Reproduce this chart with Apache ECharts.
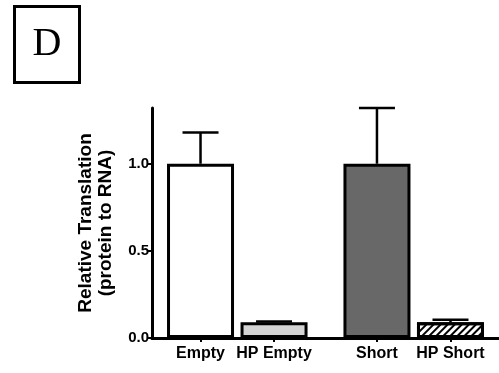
<!DOCTYPE html>
<html>
<head>
<meta charset="utf-8">
<script src="https://cdn.jsdelivr.net/npm/echarts@6/dist/echarts.min.js"></script>
<style>
  html, body { margin: 0; padding: 0; background: #fff; }
  #chart { width: 499px; height: 373px; }
</style>
</head>
<body>
<div id="chart"></div>
<script>
// values
var categories = ["Empty", "HP Empty", "Short", "HP Short"];
var slots = [1, 2, 3.4, 4.4];            // bar positions along x (pairs with a gap)
var means = [1.0, 0.09, 1.0, 0.09];
var upperErr = [1.18, 0.095, 1.32, 0.105];
var yTicks = [0, 0.5, 1.0];

var font = "'Liberation Sans', Arial, sans-serif";

// one style per bar, matching the fills of the scan
var barStyles = [
    { color: "#ffffff" },
    { color: "#d4d4d4" },
    { color: "#686868" },
    {
        color: "#ffffff",
        decal: {
            symbol: "rect", color: "#000", symbolSize: 1,
            dashArrayX: [1, 0], dashArrayY: [2, 3], rotation: -Math.PI / 4
        }
    }
];

var barData = categories.map(function (c, i) {
    return {
        value: [slots[i], means[i]],
        itemStyle: Object.assign({ borderColor: "#000", borderWidth: 3 }, barStyles[i])
    };
});

var errData = categories.map(function (c, i) {
    return [slots[i], means[i], upperErr[i]];
});

function renderErr(params, api) {
    var x = api.value(0);
    var lo = api.coord([x, api.value(1)]);
    var hi = api.coord([x, api.value(2)]);
    var half = 18;
    var st = { stroke: "#000", lineWidth: 2.5 };
    return {
        type: "group",
        children: [
            { type: "line", shape: { x1: lo[0], y1: lo[1], x2: hi[0], y2: hi[1] }, style: st },
            { type: "line", shape: { x1: hi[0] - half, y1: hi[1], x2: hi[0] + half, y2: hi[1] }, style: st }
        ]
    };
}

var chart = echarts.init(document.getElementById("chart"));
chart.setOption({
    animation: false,
    backgroundColor: "#fff",
    grid: { left: 152, right: 0, top: 108, bottom: 35 },
    xAxis: {
        type: "value",
        min: 0.34,
        max: 5.06,
        splitLine: { show: false },
        axisLine: { lineStyle: { color: "#000", width: 3 } },
        axisTick: { customValues: slots, length: 4, lineStyle: { color: "#000", width: 2 } },
        axisLabel: {
            customValues: slots,
            formatter: function (v) { return categories[slots.indexOf(v)] || ""; },
            color: "#000", fontFamily: font, fontWeight: "bold", fontSize: 16, margin: 8
        }
    },
    yAxis: {
        type: "value",
        min: 0,
        max: 1.32,
        name: "Relative Translation\n(protein to RNA)",
        nameLocation: "middle",
        nameGap: 36,
        nameTextStyle: { color: "#000", fontFamily: font, fontWeight: "bold", fontSize: 19, lineHeight: 20 },
        splitLine: { show: false },
        axisLine: { show: true, lineStyle: { color: "#000", width: 3 } },
        axisTick: { show: true, customValues: yTicks, length: 5, lineStyle: { color: "#000", width: 2 } },
        axisLabel: {
            customValues: yTicks,
            formatter: function (v) { return v.toFixed(1); },
            color: "#000", fontFamily: font, fontWeight: "bold", fontSize: 15, margin: 3
        }
    },
    graphic: [
        { type: "rect", left: 13, top: 5, shape: { width: 65, height: 76 },
          style: { fill: "#fff", stroke: "#000", lineWidth: 3 } },
        { type: "text", x: 47, y: 44,
          style: { text: "D", fill: "#000", align: "center", verticalAlign: "middle",
                   font: "40px 'Liberation Serif', 'Times New Roman', serif" } }
    ],
    series: [
        { type: "bar", barWidth: 67, data: barData },
        { type: "custom", renderItem: renderErr, data: errData, z: 3 }
    ]
});
</script>
</body>
</html>
